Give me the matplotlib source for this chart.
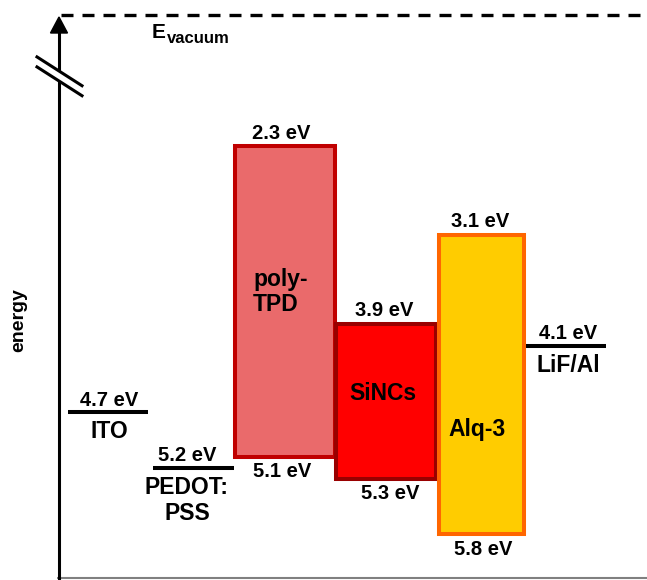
import matplotlib.pyplot as plt
from matplotlib.patches import Polygon
import numpy as np

plt.rcParams['font.family'] = ['Liberation Sans', 'DejaVu Sans']
plt.rcParams['font.weight'] = 'bold'

# energy levels (eV, below vacuum)
electrode_names = ['ITO', 'PEDOT:\nPSS', 'LiF/Al']
electrode_levels = [4.7, 5.2, 4.1]

layer_names = ['poly-\nTPD', 'SiNCs', 'Alq-3']
lumo = [2.3, 3.9, 3.1]
homo = [5.1, 5.3, 5.8]

# layout (pixel-like x positions)
electrode_x = [(68, 148), (153, 234), (525, 606)]
electrode_label_x = [109, 187, 568]
layer_x = [285, 386, 481.5]
layer_w = [100, 100, 85]
layer_fill = ['#EA6A6B', '#FF0000', '#FFCC00']
layer_edge = ['#C00000', '#990000', '#FF6600']
lumo_label_x = [281, 384, 480]
homo_label_x = [282, 390, 483]
name_pos = [(253, 0.47, 'left'), (383, 0.45, 'center'), (477, 0.65, 'center')]

W, H = 647, 580
fig = plt.figure(figsize=(W / 100, H / 100), dpi=100)

# main axes: x in pixels, y in eV (inverted)
ax = fig.add_axes([59 / W, 2 / H, (W - 59) / W, (578 - 14) / H])
ax.set_xlim(59, W)
ax.set_ylim(6.195, 1.109)
ax.axis('off')

ev_fs = 14.5
name_fs = 16.5
px = 1 / 1.389  # pixels -> points

# layer boxes
for i in range(len(layer_names)):
    ax.bar(layer_x[i], homo[i] - lumo[i], bottom=lumo[i], width=layer_w[i],
           color=layer_fill[i], edgecolor=layer_edge[i], linewidth=2.9,
           zorder=2 + i)
    ax.annotate(f'{lumo[i]} eV', (lumo_label_x[i], lumo[i]), xytext=(0, 13 * px),
                textcoords='offset points', ha='center', va='center',
                fontsize=ev_fs, fontweight='bold')
    ax.annotate(f'{homo[i]} eV', (homo_label_x[i], homo[i]), xytext=(0, -15 * px),
                textcoords='offset points', ha='center', va='center',
                fontsize=ev_fs, fontweight='bold')
    nx, frac, ha = name_pos[i]
    ax.text(nx, lumo[i] + frac * (homo[i] - lumo[i]), layer_names[i],
            ha=ha, va='center', fontsize=name_fs, fontweight='bold',
            linespacing=1.1, zorder=10)

# electrode levels
for i in range(len(electrode_names)):
    x0, x1 = electrode_x[i]
    ax.hlines(electrode_levels[i], x0, x1, color='black', linewidth=2.9)
    ax.annotate(f'{electrode_levels[i]} eV', (electrode_label_x[i], electrode_levels[i]),
                xytext=(0, 12 * px), textcoords='offset points',
                ha='center', va='center', fontsize=ev_fs, fontweight='bold')
    ax.annotate(electrode_names[i], (electrode_label_x[i], electrode_levels[i]),
                xytext=(0, -8 * px), textcoords='offset points',
                ha='center', va='top', fontsize=name_fs, fontweight='bold',
                linespacing=1.2)

# overlay for axis decorations (pixel coordinates)
ov = fig.add_axes([0, 0, 1, 1])
ov.set_xlim(0, W)
ov.set_ylim(H, 0)
ov.axis('off')
ov.patch.set_alpha(0)

ov.plot([57, W], [578, 578], color='#808080', lw=1.5, solid_capstyle='butt')
ov.plot([59, 59], [580, 30], color='black', lw=2.2, solid_capstyle='butt')
ov.add_patch(Polygon([[59, 17], [50.5, 33], [67.5, 33]], closed=True,
                     color='black'))

# axis break
s = 0.64
bx = np.array([37, 82])
ov.add_patch(Polygon([[37, 71 + s * (37 - 59)], [82, 71 + s * (82 - 59)],
                      [82, 81 + s * (82 - 59)], [37, 81 + s * (37 - 59)]],
                     closed=True, color='white', zorder=5))
for y0 in (71, 81):
    ov.plot(bx, y0 + s * (bx - 59), color='black', lw=2.2, zorder=6)

# vacuum level
ov.plot([61, W], [14.5, 14.5], color='black', lw=2.4, dashes=(3.6, 2.7))
ov.text(152, 38, 'E', fontsize=15, fontweight='bold', va='baseline', ha='left')
ov.text(167, 43, 'vacuum', fontsize=12, fontweight='bold', va='baseline', ha='left')

ov.text(19, 320, 'energy', rotation=90, fontsize=14, fontweight='bold',
        ha='center', va='center')

fig.savefig('out.png', dpi=100)
